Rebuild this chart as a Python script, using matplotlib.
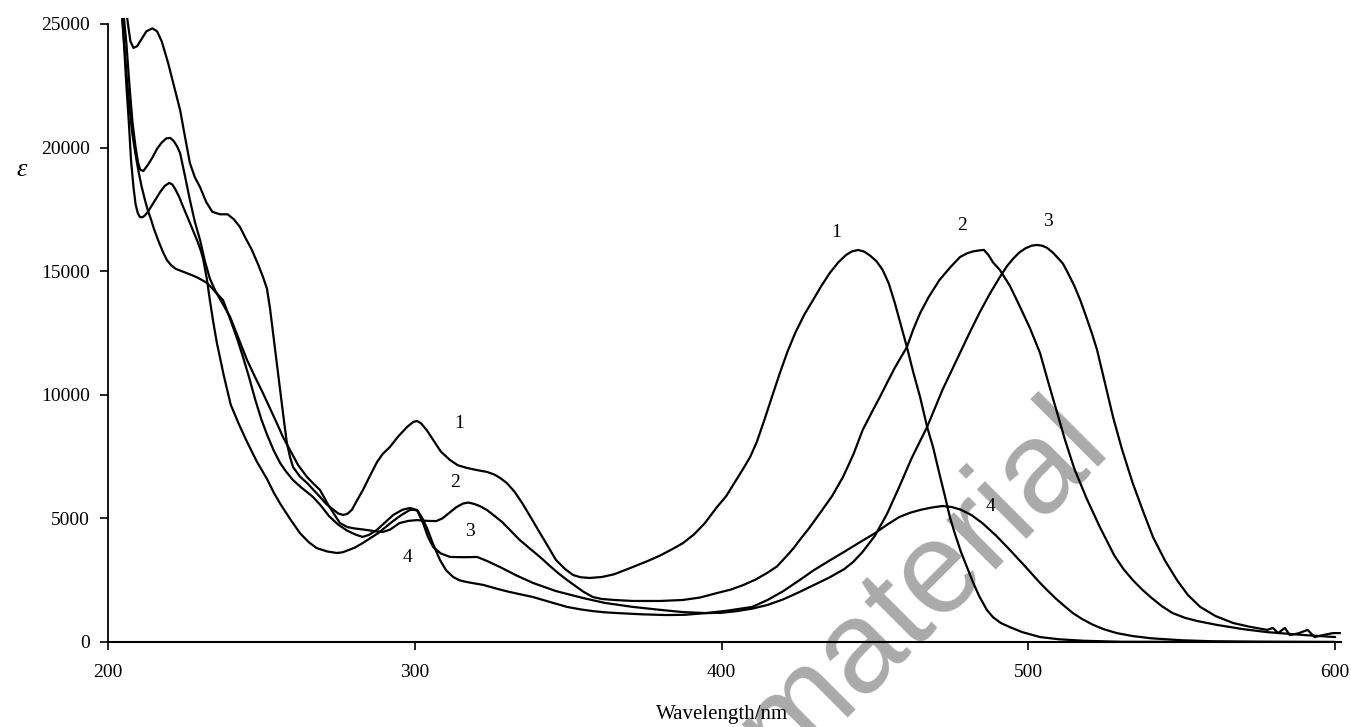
import numpy as np
import matplotlib.pyplot as plt

# absorption spectra of compounds 1-4
nm_1 = [205.5, 206.5, 207.3, 208.3, 209.5, 211, 212.5, 214.5, 216, 217.5, 219.6, 221.5, 223.5, 225,
        226.7, 228.3, 230, 232, 234, 236.5, 239, 241, 243, 245, 246.9, 249, 250.5, 251.8, 252.8,
        253.8, 255, 256.1, 257.2, 258.3, 259.3, 260.3, 262.5, 264.9, 267, 269.1, 271, 273, 275,
        276.6, 278, 279.5, 281.5, 283.1, 285.5, 287.7, 289.5, 291.9, 294.5, 297.5, 299.5, 300.7,
        302, 304, 306, 308.5, 311.5, 314, 317, 320, 323.5, 326, 328, 330, 332.5, 335, 338, 340.8,
        343.5, 346, 349, 351.6, 354, 357, 361, 365, 371, 376, 380, 384, 387.4, 391, 394.5, 398.5,
        401.5, 404.5, 407, 409.3, 411.5, 414, 416.5, 419, 421.5, 424, 427, 429.8, 432.5, 435.3,
        438, 440.5, 442.5, 444.5, 446.5, 448.5, 450.5, 452.5, 454.5, 456.5, 458.5, 460.4, 462.5,
        464.7, 467, 469, 471.2, 472.8, 474.4, 476, 478, 480, 482, 484, 486.5, 488.5, 491, 494,
        498, 503.8, 510, 518, 530, 600]
eps_1 = [26000, 25000, 24300, 24030, 24100, 24400, 24700, 24820, 24700, 24300, 23420, 22500, 21520, 20500,
         19370, 18800, 18400, 17800, 17400, 17300, 17300, 17100, 16790, 16300, 15860, 15250, 14770, 14300, 13500,
         12500, 11300, 10190, 9100, 8050, 7500, 7080, 6700, 6430, 6150, 5870, 5600, 5400, 5200,
         5140, 5180, 5350, 5800, 6150, 6750, 7280, 7600, 7890, 8300, 8700, 8900, 8940,
         8850, 8550, 8170, 7700, 7360, 7150, 7040, 6960, 6880, 6770, 6620, 6430, 6080, 5620, 5000, 4410,
         3850, 3320, 2950, 2710, 2620, 2590, 2630, 2740, 3030, 3280, 3500, 3760, 4000, 4350, 4800, 5460,
         5900, 6500, 7000, 7480, 8100, 9000, 9950, 10880, 11750, 12500, 13250, 13830, 14400, 14930,
         15350, 15650, 15800, 15857, 15790, 15620, 15400, 15050, 14500, 13700, 12800, 11930, 10900,
         9910, 8700, 7850, 6700, 5900, 5060, 4400, 3650, 3030, 2400, 1850, 1290, 1000, 770, 600,
         400, 200, 110, 50, 10, 0]

nm_2 = [205, 206, 207, 208, 209, 209.8, 210.5, 211.5, 213, 214.5, 216, 217.5, 219, 220.3, 221.5,
        222.5, 223.5, 225, 226.7, 228.3, 230, 231.6, 233.2, 235, 237.5, 239.8, 242.5, 245.3, 248,
        250.5, 252.8, 255, 257, 259.3, 262, 264.9, 267, 269.1, 272, 275.6, 278, 280, 284.4, 287,
        289.6, 292, 295, 298, 300.7, 304, 307, 309, 311, 313.5, 315.7, 317.5, 319.5, 321.5, 323.5,
        326, 328.5, 331, 334, 337.5, 340.8, 344, 347, 349.6, 352.5, 355, 358, 361, 365, 371, 380,
        387.4, 393, 398.5, 403, 407, 411, 414.8, 418, 421, 423.5, 425.5, 428.5, 432, 436, 439.6,
        443, 446, 449, 451.6, 454, 456.5, 460.4, 462.5, 464.7, 467.5, 471, 474.5, 477.7, 480, 482,
        484, 485.5, 487, 488.5, 490.7, 494, 497.3, 500.5, 503.8, 506.5, 509.3, 512, 515, 519,
        523.3, 528, 531, 534, 537, 540, 543.5, 547, 551, 555, 561.5, 570, 577.8, 585, 590, 595, 600]
eps_2 = [25500, 24200, 22500, 21000, 20000, 19400, 19100, 19050, 19300, 19600, 19950, 20200, 20370, 20390, 20250,
         20050, 19780, 18900, 17880, 17000, 16260, 15400, 14700, 14200, 13650, 13150, 12300, 11410, 10700,
         10070, 9450, 8860, 8300, 7770, 7150, 6670, 6400, 6150, 5500, 4810, 4650, 4600, 4530, 4480,
         4450, 4550, 4810, 4900, 4930, 4900, 4890, 5000, 5200, 5450, 5600, 5640, 5580, 5480, 5340,
         5100, 4850, 4530, 4150, 3780, 3440, 3080, 2760, 2510, 2250, 2030, 1820, 1740, 1700, 1660, 1660,
         1700, 1800, 1980, 2120, 2300, 2520, 2790, 3050, 3450, 3800, 4130, 4600, 5200, 5900, 6680,
         7600, 8580, 9300, 9910, 10500, 11100, 11930, 12650, 13300, 13950, 14640, 15150, 15570, 15720, 15800,
         15840, 15860, 15650, 15350, 15050, 14400, 13550, 12700, 11690, 10500, 9300, 8150, 7000, 5800,
         4650, 3500, 2950, 2510, 2130, 1800, 1450, 1170, 980, 850, 690, 520, 400, 330, 280, 240, 200]

nm_3 = [204.5, 205.3, 206, 207, 208, 209, 210, 211, 212, 213, 214, 215, 216.5, 218, 219.2, 220.5,
        222, 224, 225.7, 227.5, 229, 230.5, 232.3, 234, 235.8, 237.5, 240, 242, 244, 246, 248, 250,
        251.8, 254, 256.1, 258, 260.3, 263, 266.8, 269.5, 272, 275, 278, 281, 283, 285, 287.6, 290,
        293, 296, 298.4, 300.7, 302.7, 304.3, 306, 308.5, 311.5, 316, 320.3, 323.5, 327.8, 333,
        338.5, 346, 354.8, 362, 371, 380, 387.4, 395, 400, 405, 410, 415, 420, 425, 430, 435, 440,
        443, 446, 450, 454, 458, 462, 467, 472, 477.7, 481, 484, 487.5, 490.7, 493, 495, 497, 499,
        501, 502.8, 504.5, 506, 508, 509.5, 511.3, 513, 515, 517, 519, 520.8, 522.4, 525, 527.6,
        530.5, 534, 537.5, 540.6, 544.5, 548.4, 552, 556, 561, 566.7, 572, 577.8, 579.7, 581.4,
        583.6, 585.2, 588, 591, 593.3, 596, 599.3, 601.6]
eps_3 = [25500, 24200, 23000, 21600, 20500, 19700, 19000, 18400, 17900, 17450, 17100, 16700, 16200, 15750, 15450, 15250,
         15100, 15000, 14920, 14830, 14750, 14650, 14520, 14300, 14050, 13830, 13000, 12300, 11530, 10700, 9800, 9000,
         8400, 7750, 7240, 6900, 6550, 6250, 5870, 5500, 5100, 4750, 4500, 4330, 4250, 4330, 4530, 4800,
         5140, 5350, 5420, 5340, 4810, 4250, 3840, 3580, 3440, 3430, 3440, 3280, 3030, 2700,
         2390, 2060, 1780, 1580, 1420, 1300, 1210, 1170, 1180, 1250, 1350, 1500, 1720, 2000, 2300, 2600, 2950,
         3250, 3650, 4300, 5200, 6300, 7450, 8700, 10200, 11690, 12550, 13300, 14100, 14760, 15200, 15500, 15750, 15920,
         16030, 16060, 16030, 15950, 15750, 15550, 15300, 14900, 14400, 13800, 13100, 12450, 11810, 10450, 9100,
         7800, 6430, 5250, 4250, 3300, 2510, 1900, 1420, 1050, 770, 620, 490, 570, 360,
         570, 280, 350, 490, 200, 280, 360, 360]

nm_4 = [204.5, 205.3, 206, 206.8, 207.5, 208.3, 209, 209.7, 210.4, 211.2, 212, 213, 214, 215.5, 217,
        218.5, 220, 221, 222, 223.2, 224.5, 226.7, 229, 230.2, 231, 232.2, 233.2, 234.3, 235.5, 237.7,
        240, 242.7, 245.3, 248.5, 251.8, 254, 256.1, 259.5, 262.6, 265.5, 268, 271.5, 274.6, 276.5,
        278, 280.5, 283, 285.5, 288, 290.5, 293, 295.8, 298.4, 299.8, 301, 302.5, 304, 306, 308.2,
        310.2, 312.5, 314.5, 316, 319, 322.3, 326, 330, 334, 338.5, 344, 349.6, 354, 358, 362, 366,
        374, 382, 388, 395, 402, 410, 415, 420, 425.5, 430, 435, 440, 445, 450, 454, 458, 461.5, 465,
        468.5, 472, 475, 478, 481.5, 485, 489.5, 494, 499, 503.8, 506.5, 509, 511.8, 514.5, 517.5,
        521, 524.5, 528.8, 534, 540, 550, 560, 575, 600]
eps_4 = [25500, 24000, 22500, 21000, 19500, 18400, 17700, 17350, 17190, 17180, 17250, 17400, 17600, 17900, 18200,
         18450, 18570, 18500, 18300, 18000, 17600, 16950, 16260, 15850, 15500, 14700, 13830, 12950, 12090, 10800,
         9600, 8800, 8100, 7300, 6600, 6050, 5600, 4950, 4400, 4030, 3800, 3660, 3600, 3630,
         3700, 3820, 4000, 4200, 4400, 4650, 4900, 5150, 5340, 5350, 5300, 5000, 4600, 3950, 3320,
         2900, 2630, 2500, 2450, 2380, 2310, 2180, 2050, 1940, 1820, 1620, 1420, 1320, 1250, 1200, 1170,
         1120, 1090, 1100, 1170, 1270, 1420, 1700, 2050, 2510, 2900, 3280, 3650, 4030, 4400, 4750, 5060, 5230, 5350,
         5440, 5500, 5460, 5350, 5130, 4810, 4300, 3720, 3050, 2390, 2050, 1750, 1450, 1170, 930,
         700, 520, 360, 240, 150, 70, 30, 10, 0]

labels = ['1', '2', '3', '4']
label_uv = [(314.4, 8818), (313.1, 6432), (318, 4450), (297.5, 3438)]
label_vis = [(437.3, 16544), (478.4, 16827), (506.4, 16989), (487.5, 5501)]

plt.rcParams['font.family'] = ['Liberation Serif', 'DejaVu Serif']

fig = plt.figure(figsize=(13.51, 7.27), dpi=100)
ax = fig.add_axes([108 / 1351, 85 / 727, 1233 / 1351, 624 / 727])

for x, y in [(nm_1, eps_1), (nm_2, eps_2), (nm_3, eps_3), (nm_4, eps_4)]:
    ax.plot(x, y, color='black', lw=1.6, solid_joinstyle='round', solid_capstyle='round')

for lab, (x1, y1), (x2, y2) in zip(labels, label_uv, label_vis):
    ax.text(x1, y1, lab, fontsize=14, ha='center', va='center')
    ax.text(x2, y2, lab, fontsize=14, ha='center', va='center')

ax.set_xlim(200, 601.9)
ax.set_ylim(0, 25240)
ax.spines['top'].set_visible(False)
ax.spines['right'].set_visible(False)
ax.spines['left'].set_bounds(0, 25000)
ax.spines['left'].set_linewidth(1.3)
ax.spines['bottom'].set_linewidth(1.5)
ax.set_xticks([200, 300, 400, 500, 600])
ax.set_yticks([0, 5000, 10000, 15000, 20000, 25000])
ax.tick_params(axis='x', direction='out', length=6, width=1.2, pad=10, labelsize=14)
ax.tick_params(axis='y', direction='out', length=6, width=1.2, pad=7, labelsize=14)

fig.text(722 / 1351, 1 - 714 / 727, 'Wavelength/nm', fontsize=15, ha='center', va='center')
fig.text(22 / 1351, 1 - 170 / 727, 'ε', fontsize=19, style='italic', ha='center', va='center')

# watermark
ax.text(783 / 1351, (727 - 774) / 727, 'material', transform=fig.transFigure, fontsize=94,
        family='Liberation Sans', color='#aaaaaa', rotation=45, rotation_mode='anchor',
        ha='left', va='baseline', zorder=0, clip_on=False)

fig.savefig('out.png', dpi=100)
